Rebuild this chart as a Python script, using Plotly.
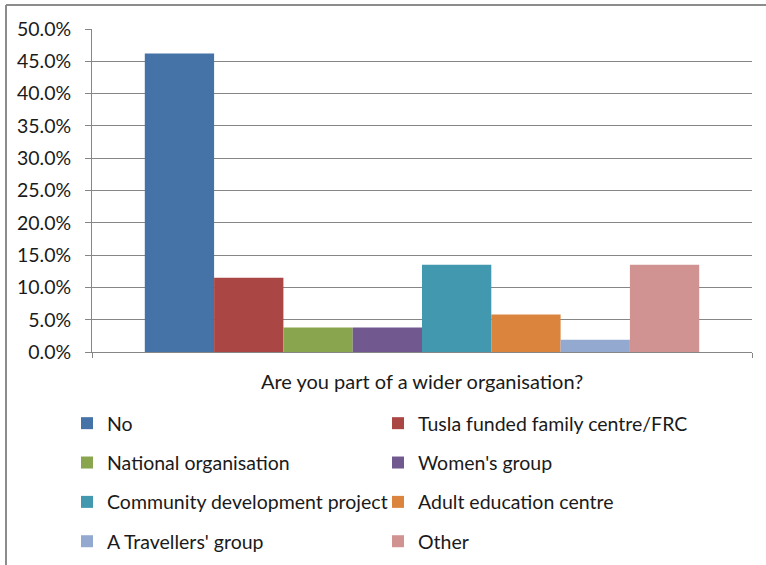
import plotly.graph_objects as go

# Survey responses: share of respondents by type of wider organisation
category = ["Are you part of a wider organisation?"]
series_names = [
    "No",
    "Tusla funded family centre/FRC",
    "National organisation",
    "Women's group",
    "Community development project",
    "Adult education centre",
    "A Travellers' group",
    "Other",
]
series_values = [0.462, 0.115, 0.038, 0.038, 0.135, 0.058, 0.019, 0.135]
series_colors = ["#4572A7", "#AA4643", "#89A54E", "#71588F",
                 "#4198AF", "#DB843D", "#93A9CF", "#D19392"]
y_ticks = [i * 0.05 for i in range(11)]

FONT = "Lato"
W, H = 766, 565
ML, MR, MT, MB = 92, 14, 29, 213
PW, PH = W - ML - MR, H - MT - MB

fig = go.Figure()
for i, (name, val, col) in enumerate(zip(series_names, series_values, series_colors)):
    fig.add_trace(go.Bar(
        x=category, y=[val], name=name,
        marker=dict(color=col, line=dict(width=0)),
        legend="legend" if i % 2 == 0 else "legend2",
        legendgroup=name,
    ))

legend_common = dict(
    orientation="v", xref="container", yref="container",
    yanchor="top", xanchor="left",
    font=dict(family=FONT, size=19.5, color="#1a1a1a"),
    tracegroupgap=11, bgcolor="rgba(0,0,0,0)",
)

fig.update_layout(
    width=W, height=H,
    margin=dict(l=ML, r=MR, t=MT, b=MB, autoexpand=False),
    paper_bgcolor="white", plot_bgcolor="white",
    barmode="group", bargap=0.16, bargroupgap=0,
    font=dict(family=FONT, size=18, color="#1a1a1a"),
    legend=dict(x=67 / W, y=1 - 404 / H, **legend_common),
    legend2=dict(x=378 / W, y=1 - 404 / H, **legend_common),
    xaxis=dict(
        showgrid=False, showline=True, linecolor="#868686", linewidth=1,
        ticks="outside", tickson="boundaries", ticklen=5, tickcolor="#868686",
        tickangle=0, automargin=False, ticklabelstandoff=12,
        tickfont=dict(family=FONT, size=20, color="#1a1a1a"),
    ),
    yaxis=dict(
        range=[0, 0.5], tickvals=y_ticks, tickformat=".1%",
        showgrid=True, gridcolor="#868686", gridwidth=1,
        showline=True, linecolor="#868686", linewidth=1,
        ticks="outside", ticklen=6, tickcolor="#868686",
        automargin=False, ticklabelstandoff=10,
        tickfont=dict(family=FONT, size=19.5, color="#1a1a1a"),
        zeroline=False,
    ),
    showlegend=True,
)

# Chart frame along the top and left edges
x_left = (6 - ML) / PW
y_top = 1 + (MT - 5) / PH
y_bot = -(MB) / PH
fig.add_shape(type="line", xref="paper", yref="paper",
              x0=x_left, x1=(W - ML) / PW, y0=y_top, y1=y_top,
              line=dict(color="#8c8c8c", width=2))
fig.add_shape(type="line", xref="paper", yref="paper",
              x0=x_left, x1=x_left, y0=y_top, y1=y_bot,
              line=dict(color="#8c8c8c", width=2))

fig.write_html("out.html")
